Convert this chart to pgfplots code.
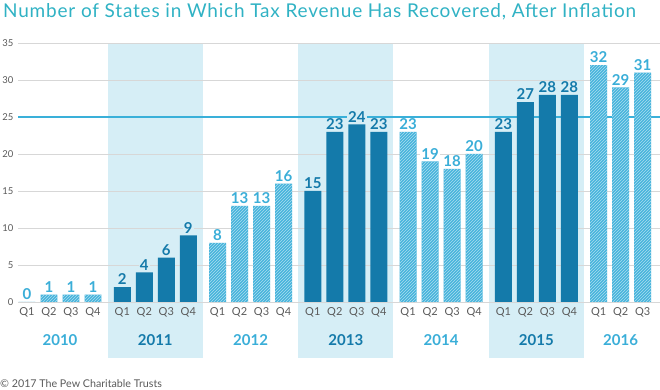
\documentclass[border=0pt]{standalone}
\usepackage{pgfplots}
\pgfplotsset{compat=1.18}
\usepackage{fontspec}
\setmainfont{Lato}
\newfontfamily\titlefont[LetterSpace=4.2]{Lato}
\usetikzlibrary{patterns}
\definecolor{titleblue}{RGB}{48,178,196}
\definecolor{lightbar}{RGB}{70,180,220}
\definecolor{lightlab}{RGB}{58,174,216}
\definecolor{darkbar}{RGB}{20,122,170}
\definecolor{shade}{RGB}{214,238,246}
\definecolor{refline}{RGB}{58,176,217}
\definecolor{gridgray}{RGB}{215,215,215}
\definecolor{ticktext}{RGB}{90,90,90}
\pgfplotsset{
  lightbars/.style={ybar, bar width=0.77, fill=lightbar, draw=none, bar shift=0pt,
    postaction={pattern=north east lines, pattern color=white!55!lightbar},
    nodes near coords, every node near coord/.append style={
      font=\bfseries\fontsize{15}{15}\selectfont, color=lightlab,
      fill=white, inner sep=1pt, yshift=1pt}},
  darkbars/.style={ybar, bar width=0.77, fill=darkbar, draw=none, bar shift=0pt,
    nodes near coords, every node near coord/.append style={
      font=\bfseries\fontsize{15}{15}\selectfont, color=darkbar,
      fill=shade, inner sep=1pt, yshift=1pt}},
  shadeblock/.style={fill=shade, draw=none, on layer=axis background, sharp plot, mark=none},
}
\begin{document}
\begin{tikzpicture}
\begin{axis}[
  at={(18pt,88pt)}, anchor=south west,
  scale only axis, width=642pt, height=259pt,
  xmin=-0.41, xmax=28.77, ymin=0, ymax=35,
  clip=false,
  set layers,
  axis line style={draw=none},
  ytick={0,5,...,35},
  ymajorgrids, grid style={gridgray, line width=0.8pt},
  major tick length=0pt,
  yticklabel style={font=\fontsize{9.5}{10}\selectfont, color=ticktext, anchor=east, xshift=-1pt},
  xtick={0,1,2,3,4.33,5.33,6.33,7.33,8.66,9.66,10.66,11.66,12.99,13.99,14.99,15.99,17.32,18.32,19.32,20.32,21.65,22.65,23.65,24.65,25.98,26.98,27.98},
  xticklabels={Q1,Q2,Q3,Q4,Q1,Q2,Q3,Q4,Q1,Q2,Q3,Q4,Q1,Q2,Q3,Q4,Q1,Q2,Q3,Q4,Q1,Q2,Q3,Q4,Q1,Q2,Q3},
  xticklabel style={font=\fontsize{11}{11}\selectfont, color=ticktext, yshift=-2pt},
  /pgf/number format/assume math mode=true,
]
\addplot[shadeblock] coordinates {(3.67,-7.57) (7.995,-7.57) (7.995,35) (3.67,35)} --cycle;
\addplot[shadeblock] coordinates {(12.33,-7.57) (16.655,-7.57) (16.655,35) (12.33,35)} --cycle;
\addplot[shadeblock] coordinates {(20.99,-7.57) (25.315,-7.57) (25.315,35) (20.99,35)} --cycle;
\draw[refline, line width=1.4pt] (axis cs:-0.41,25) -- (axis cs:28.77,25);
% 2010
\addplot[lightbars] coordinates {(0,0) (1,1) (2,1) (3,1)};
% 2011
\addplot[darkbars] coordinates {(4.33,2) (5.33,4) (6.33,6) (7.33,9)};
% 2012
\addplot[lightbars] coordinates {(8.66,8) (9.66,13) (10.66,13) (11.66,16)};
% 2013
\addplot[darkbars] coordinates {(12.99,15) (13.99,23) (14.99,24) (15.99,23)};
% 2014
\addplot[lightbars] coordinates {(17.32,23) (18.32,19) (19.32,18) (20.32,20)};
% 2015
\addplot[darkbars] coordinates {(21.65,23) (22.65,27) (23.65,28) (24.65,28)};
% 2016
\addplot[lightbars] coordinates {(25.98,32) (26.98,29) (27.98,31)};
% year labels
\node[lightlab, font=\bfseries\fontsize{15}{15}\selectfont] at (axis cs:1.5,-5.13) {2010};
\node[darkbar, font=\bfseries\fontsize{15}{15}\selectfont] at (axis cs:5.83,-5.13) {2011};
\node[lightlab, font=\bfseries\fontsize{15}{15}\selectfont] at (axis cs:10.16,-5.13) {2012};
\node[darkbar, font=\bfseries\fontsize{15}{15}\selectfont] at (axis cs:14.49,-5.13) {2013};
\node[lightlab, font=\bfseries\fontsize{15}{15}\selectfont] at (axis cs:18.82,-5.13) {2014};
\node[darkbar, font=\bfseries\fontsize{15}{15}\selectfont] at (axis cs:23.15,-5.13) {2015};
\node[lightlab, font=\bfseries\fontsize{15}{15}\selectfont] at (axis cs:26.98,-5.13) {2016};
\end{axis}
\node[anchor=base west, inner sep=0pt, color=titleblue, font=\titlefont\fontsize{19}{20}\selectfont] at (3pt,372pt) {Number of States in Which Tax Revenue Has Recovered, After Inflation};
\node[anchor=base west, inner sep=0pt, color=ticktext, font=\fontsize{10.7}{11}\selectfont] at (0pt,2pt) {© 2017 The Pew Charitable Trusts};
\pgfresetboundingbox
\path[use as bounding box] (0pt,0pt) rectangle (660pt,390pt);
\end{tikzpicture}
\end{document}
